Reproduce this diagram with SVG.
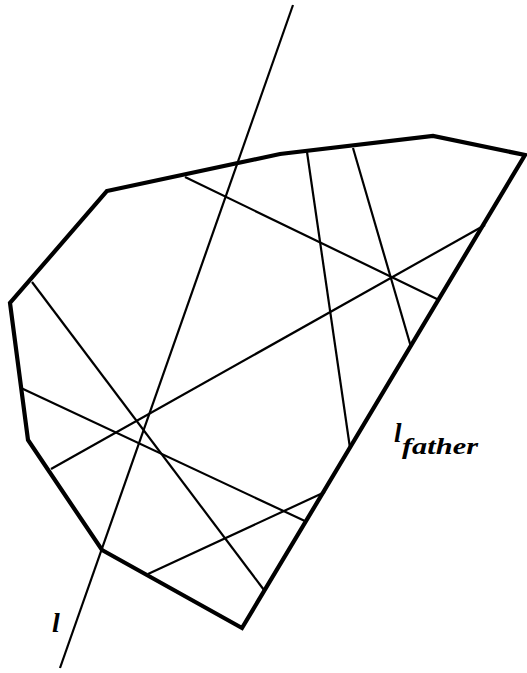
<svg xmlns="http://www.w3.org/2000/svg" width="527" height="673" viewBox="0 0 527 673">
<style>
.poly{fill:none;stroke:#000;stroke-width:4.2;stroke-linejoin:miter;stroke-linecap:round}
.thin{fill:none;stroke:#000;stroke-width:2.2;stroke-linecap:butt}
.lbl{font-family:"Liberation Serif","Times New Roman",serif;font-style:italic;font-weight:bold;fill:#000}
</style>
<rect width="527" height="673" fill="#fff"/>
<g id="region">
<polygon class="poly" points="107,191 280,154 433,136 525,155 242,628 102,550 28,440 10,303"/>
</g>
<g id="connectors">
<line class="thin" x1="293" y1="5" x2="60" y2="668"/>
<line class="thin" x1="185" y1="177" x2="439" y2="300"/>
<line class="thin" x1="307" y1="152" x2="350" y2="448"/>
<line class="thin" x1="353" y1="148" x2="411" y2="347"/>
<line class="thin" x1="485" y1="225" x2="51" y2="469"/>
<line class="thin" x1="32" y1="282" x2="264" y2="590"/>
<line class="thin" x1="21" y1="388" x2="307" y2="522"/>
<line class="thin" x1="148" y1="574" x2="325" y2="492"/>
</g>
<g id="label-l">
<text class="lbl" x="52" y="632" font-size="28">l</text>
</g>
<g id="label-lfather">
<text class="lbl" x="394" y="442" font-size="27">l</text>
<text class="lbl" x="402" y="454" font-size="24" textLength="76" lengthAdjust="spacingAndGlyphs">father</text>
</g>
</svg>
